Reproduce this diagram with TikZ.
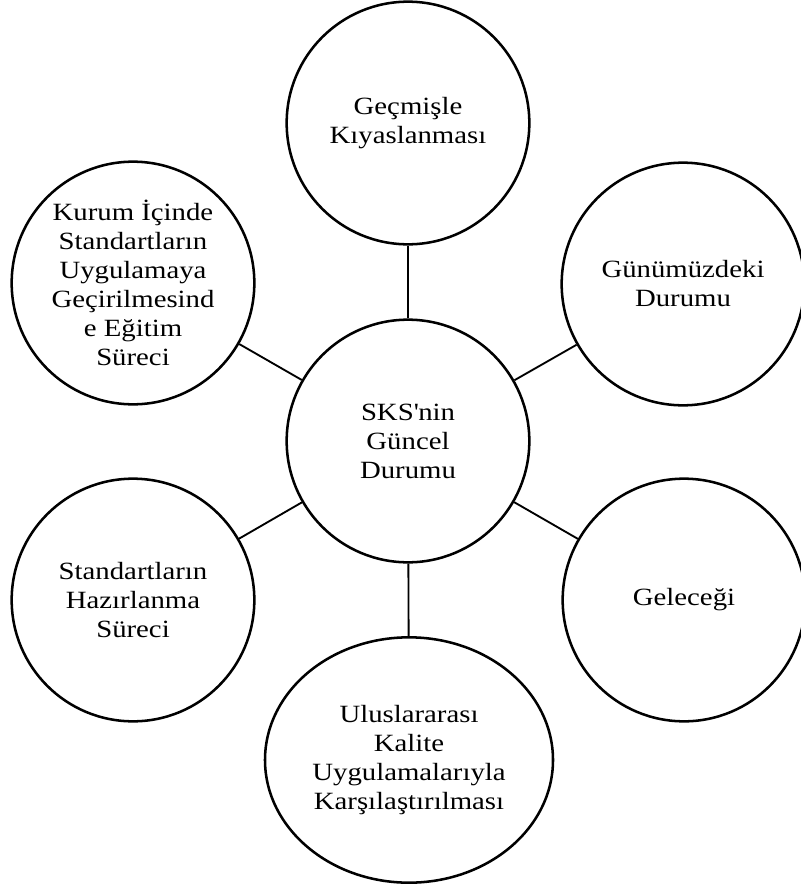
\documentclass[tikz,border=0pt]{standalone}
\usepackage{fontspec}
\setmainfont[FakeStretch=1.16]{Liberation Serif}
\usetikzlibrary{shapes.geometric}

\begin{document}
\begin{tikzpicture}[
  x=0.75pt, y=-0.75pt,
  font=\fontsize{18.6pt}{21.75pt}\selectfont,
  cc/.style={draw=black, circle, line width=1.9pt, minimum size=182pt,
             inner sep=0pt, align=center},
  ov/.style={draw=black, ellipse, line width=1.9pt, minimum width=216pt,
             minimum height=184pt, inner sep=0pt, align=center},
  ln/.style={black, line width=1.4pt}
]
\useasboundingbox (0,0) rectangle (800,885);

% Center
\node[cc] (sks) at (408,441) {SKS\textquotesingle nin\\Güncel\\Durumu};

% Around
\node[cc] (gecmis) at (408,123) {Geçmişle\\Kıyaslanması};
\node[cc] (gunumuz) at (683,284) {Günümüzdeki\\Durumu};
\node[cc] (gelecek) at (684,600) {Geleceği};
\node[ov] (ulus) at (409,760) {Uluslararası\\Kalite\\Uygulamalarıyla\\Karşılaştırılması};
\node[cc] (hazir) at (133,600) {Standartların\\Hazırlanma\\Süreci};
\node[cc] (kurum) at (133,283) {Kurum İçinde\\Standartların\\Uygulamaya\\Geçirilmesind\\e Eğitim\\Süreci};

% Connectors
\draw[ln] (sks) -- (gecmis);
\draw[ln] (sks) -- (gunumuz);
\draw[ln] (sks) -- (gelecek);
\draw[ln] (sks) -- (ulus);
\draw[ln] (sks) -- (hazir);
\draw[ln] (sks) -- (kurum);
\end{tikzpicture}
\end{document}
